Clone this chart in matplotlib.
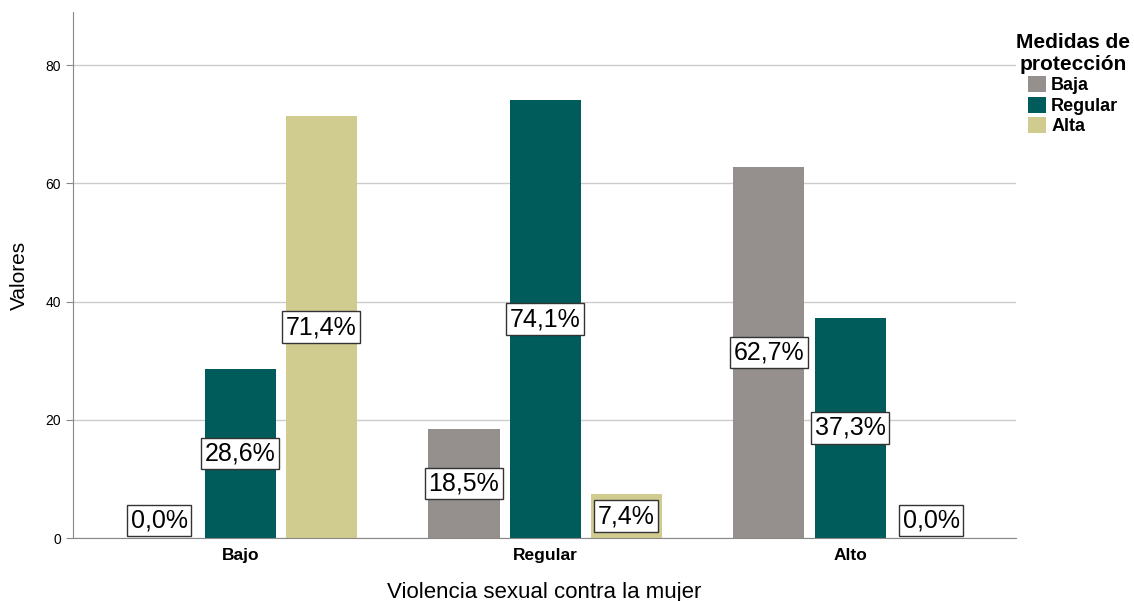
import numpy as np
import matplotlib.pyplot as plt

plt.rcParams['font.family'] = ['Liberation Sans', 'DejaVu Sans']

categorias = ['Bajo', 'Regular', 'Alto']
series = ['Baja', 'Regular', 'Alta']
valores = {
    'Baja': [0.0, 18.5, 62.7],
    'Regular': [28.6, 74.1, 37.3],
    'Alta': [71.4, 7.4, 0.0],
}
colores = ['#958f8e', '#005c5a', '#d0cb8f']

fig = plt.figure(figsize=(11.34, 6.01), dpi=100)
ax = fig.add_axes([73 / 1134, 63 / 601, 943 / 1134, 526 / 601])

x = np.arange(len(categorias))
ancho = 0.233
paso = 0.266
for i, (s, c) in enumerate(zip(series, colores)):
    pos = x + (i - 1) * paso
    vals = valores[s]
    ax.bar(pos, vals, width=ancho, color=c, label=s, zorder=2)
    for px, v in zip(pos, vals):
        yy = max(v / 2, 3.0)
        ax.text(px, yy, f'{v:.1f}%'.replace('.', ','), ha='center', va='center',
                fontsize=18, zorder=3,
                bbox=dict(boxstyle='square,pad=0.15', fc='white', ec='#333333', lw=1))

ax.set_xlim(-0.548, 2.544)
ax.set_ylim(0, 89)
ax.set_yticks([0, 20, 40, 60, 80])
ax.set_xticks(x)
ax.set_xticklabels(categorias, fontweight='bold', fontsize=12.5)
ax.tick_params(axis='y', labelsize=10, length=5, color='#888888')
ax.tick_params(axis='x', length=0, pad=7)
ax.grid(axis='y', color='#cccccc', lw=1, zorder=0)
for sp in ['top', 'right']:
    ax.spines[sp].set_visible(False)
ax.spines['left'].set_color('#888888')
ax.spines['bottom'].set_color('#888888')
ax.set_ylabel('Valores', fontsize=15, labelpad=12)
ax.set_xlabel('Violencia sexual contra la mujer', fontsize=16, labelpad=14)

leg = fig.legend(title='Medidas de\nprotección', loc='upper left',
                 bbox_to_anchor=(1016 / 1134, 1 - 33 / 601), frameon=False,
                 fontsize=13, handlelength=1.0, handleheight=1.0,
                 handletextpad=0.3, labelspacing=0.12, borderaxespad=0,
                 borderpad=0)
plt.setp(leg.get_title(), fontweight='bold', fontsize=15, multialignment='center')
for t in leg.get_texts():
    t.set_fontweight('bold')

fig.savefig('out.png', dpi=100)
